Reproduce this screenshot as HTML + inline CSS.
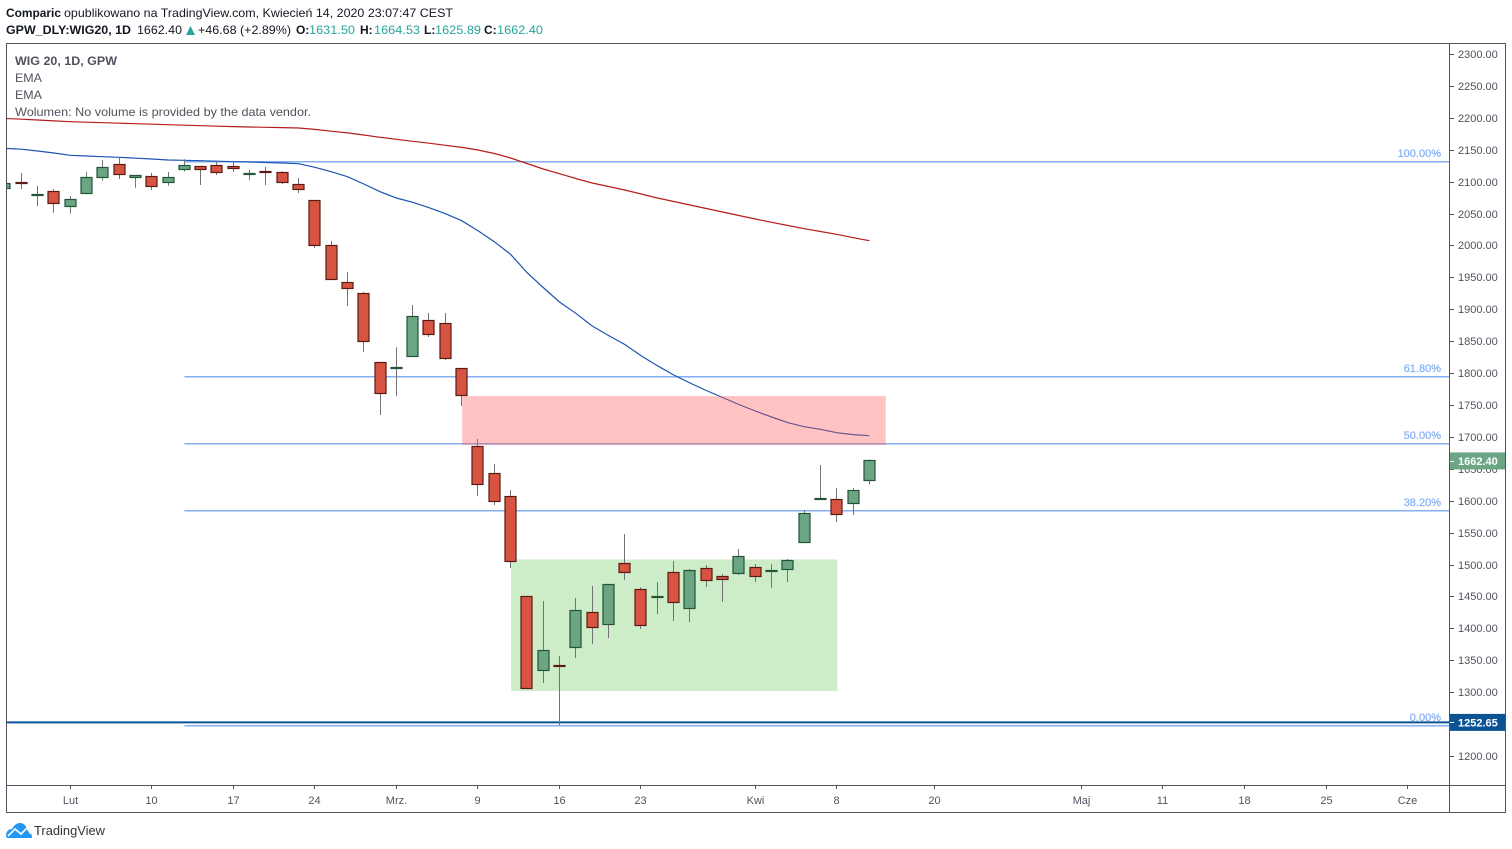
<!DOCTYPE html>
<html lang="pl">
<head>
<meta charset="utf-8">
<title>WIG 20, 1D, GPW</title>
<style>
html,body{margin:0;padding:0;background:#fff;width:1512px;height:849px;overflow:hidden}
svg{display:block;font-family:"Liberation Sans",Arial,sans-serif}
</style>
</head>
<body>
<svg id="root" xmlns="http://www.w3.org/2000/svg" width="1512" height="849" viewBox="0 0 1512 849">
  <defs><clipPath id="pane-clip"><rect x="7" y="44" width="1442" height="741"/></clipPath></defs>
  <g font-size="12" fill="#131722">
    <text x="6" y="17" font-weight="bold" textLength="55" lengthAdjust="spacingAndGlyphs">Comparic</text>
    <text x="64" y="17" textLength="389" lengthAdjust="spacingAndGlyphs">opublikowano na TradingView.com, Kwiecień 14, 2020 23:07:47 CEST</text>
    <text x="6" y="34" font-weight="bold" textLength="125" lengthAdjust="spacingAndGlyphs">GPW_DLY:WIG20, 1D</text>
    <text x="137" y="34" textLength="45" lengthAdjust="spacingAndGlyphs">1662.40</text>
    <polygon points="186,35 195,35 190.5,26" fill="#26a69a"/>
    <text x="198" y="34" textLength="93" lengthAdjust="spacingAndGlyphs">+46.68 (+2.89%)</text>
    <text x="296" y="34" font-weight="bold">O:</text>
    <text x="309" y="34" fill="#26a69a" textLength="46" lengthAdjust="spacingAndGlyphs">1631.50</text>
    <text x="360" y="34" font-weight="bold">H:</text>
    <text x="374" y="34" fill="#26a69a" textLength="46" lengthAdjust="spacingAndGlyphs">1664.53</text>
    <text x="424" y="34" font-weight="bold">L:</text>
    <text x="435" y="34" fill="#26a69a" textLength="46" lengthAdjust="spacingAndGlyphs">1625.89</text>
    <text x="484" y="34" font-weight="bold">C:</text>
    <text x="497" y="34" fill="#26a69a" textLength="46" lengthAdjust="spacingAndGlyphs">1662.40</text>
  </g>
  <g id="pane" clip-path="url(#pane-clip)"></g>
  <g id="overlay"></g>
  <g fill="none" stroke="#50535e" stroke-width="1">
    <rect x="6.5" y="43.5" width="1499" height="769"/>
    <line x1="1449.5" y1="44" x2="1449.5" y2="812"/>
    <line x1="7" y1="785.5" x2="1505" y2="785.5"/>
  </g>
  <g font-size="12" fill="#50535e">
    <text x="15" y="65" font-weight="bold" textLength="102" lengthAdjust="spacingAndGlyphs">WIG 20, 1D, GPW</text>
    <text x="15" y="82" textLength="27" lengthAdjust="spacingAndGlyphs">EMA</text>
    <text x="15" y="99" textLength="27" lengthAdjust="spacingAndGlyphs">EMA</text>
    <text x="15" y="116" textLength="296" lengthAdjust="spacingAndGlyphs">Wolumen: No volume is provided by the data vendor.</text>
  </g>
  <g>
    <path d="M6 836 C6 831 9 829 12 829 C14 825 17 823 20 823 C24 823 26 826 27 829 C30 830 32 833 32 838 L8 838 C7 838 6 837 6 836 Z" fill="#2196f3"/>
    <polyline points="8,836 15,829 21,834 27,828 31,834" fill="none" stroke="#fff" stroke-width="1.6"/>
    <text x="34" y="835" font-size="12.5" fill="#333" textLength="71" lengthAdjust="spacingAndGlyphs">TradingView</text>
  </g>
</svg>
<script>
const opens = [2088.8,2098,2078.5,2084.1,2061.5,2081.9,2107,2126.4,2107,2107.6,2099.1,2119.5,2123.3,2124.8,2123.3,2111.9,2116.1,2113.9,2095,2070,1999.5,1941.5,1924.3,1816.1,1807,1826.5,1882,1877.2,1806.7,1684.5,1642.2,1606.2,1449.5,1334.5,1341.6,1370.5,1424.4,1406.5,1501.2,1460.5,1448.7,1487.1,1431.6,1493.4,1480.8,1486.5,1494.9,1489.4,1492.7,1535,1602.2,1601.5,1596.1,1631.5];
const highs = [2096.6,2113.5,2093.2,2088,2077.5,2115.1,2133.9,2138.1,2109.5,2113.5,2115.1,2135,2124,2130.8,2132.8,2118.2,2122.9,2116.2,2105.7,2070,2007,1958.4,1927.1,1816.1,1840.4,1906.7,1894.2,1894.2,1806.7,1696.7,1657.6,1616.8,1449.5,1442.9,1356.7,1447.6,1466.4,1468.3,1547.9,1464.4,1472.7,1505.6,1493,1499.3,1485.2,1524.4,1500.9,1500.9,1508.7,1585.5,1656,1620,1620,1664.53];
const lows = [2088.8,2088.5,2061.8,2051.3,2049.8,2081.9,2101.5,2104.1,2090.5,2086.9,2093.6,2115.6,2094.7,2110.4,2115.1,2102.6,2094.7,2096.3,2082.2,1996,1946.2,1905.1,1833.1,1734.3,1764.1,1826.5,1856.6,1820.5,1748.5,1607.4,1593.3,1494.6,1306.3,1314.4,1248,1353.6,1375.5,1384.9,1475.8,1399,1422.5,1411.6,1410,1464.8,1441.3,1483.6,1472.7,1463.3,1472.7,1535,1602.2,1566.7,1577.7,1625.89];
const closes = [2096.6,2097,2079.5,2066.2,2071.5,2106,2121.7,2111.7,2109.2,2092.9,2106,2124.8,2119.5,2114.8,2121.1,2112.9,2115.1,2099.1,2088.2,2000.4,1946.2,1933,1850,1768.5,1808,1888.2,1861,1823.3,1765.4,1625.9,1599.3,1505.3,1306.3,1364.9,1340.6,1427.5,1401.9,1468.3,1488,1405,1449.7,1441,1490.2,1475.5,1477.1,1512.2,1481.8,1490.4,1505.9,1579.5,1603.2,1578.9,1615.7,1662.4];
const emaFast = [2152.1,2150.8,2148,2144.9,2141.3,2140.2,2139.1,2138.1,2136.7,2135.5,2133.9,2133.4,2132.8,2132,2131.2,2130.8,2130,2129.2,2128.1,2122.5,2115.6,2107.7,2096.3,2084.2,2074.4,2067.6,2059.2,2049.8,2038.8,2023.1,2005.9,1986.1,1957.6,1934.1,1911.4,1893.7,1873.8,1858.9,1844.8,1827.3,1811.6,1797,1784.5,1772.7,1761.8,1750.8,1740.6,1731.2,1722.3,1716,1711.9,1706.6,1703.6,1701.9];
const emaSlow = [2198.9,2197.8,2196.6,2195.2,2193.9,2193.1,2192.4,2191.6,2190.8,2190,2189.2,2188.4,2187.7,2186.9,2186.2,2185.6,2185.1,2184.7,2184,2181.9,2179,2176.4,2173.1,2169.5,2166.3,2163.2,2160.2,2156.9,2153.6,2149.6,2144.1,2137,2128.4,2119.8,2112.4,2104.9,2097.9,2092.4,2086.9,2080.6,2074.4,2068.9,2063.4,2057.9,2052.4,2046.9,2041.5,2036.3,2031.3,2026.3,2021.9,2017.5,2012.2,2007.5];
const priceTicks = [2300,2250,2200,2150,2100,2050,2000,1950,1900,1850,1800,1750,1700,1650,1600,1550,1500,1450,1400,1350,1300,1250,1200];
const timeTickBars = [4,9,14,19,24,29,34,39,46,51,57,66,71,76,81,86];
const timeTickLabels = ["Lut","10","17","24","Mrz.","9","16","23","Kwi","8","20","Maj","11","18","25","Cze"];
const fibHigh = 2132.3;
const fibLow = 1248.6;
const fibRatios = [1,0.618,0.5,0.382,0];
const fibLabels = ["100.00%","61.80%","50.00%","38.20%","0.00%"];
const fibStartBar = 11;
const supportLevel = 1252.65;
const lastPrice = 1662.40;
const resistanceZone = {fromBar:28, toBar:54, top:1764, bottom:1688};
const rangeZone = {fromBar:31, toBar:51, top:1508, bottom:1302};

const NS = "http://www.w3.org/2000/svg";
const pane = document.getElementById("pane");
const overlay = document.getElementById("overlay");
const xOf = i => 5 + 16.31 * i;
const yOf = p => 54 + (2300 - p) * 0.63818;
const crisp = v => Math.round(v) + 0.5;
const snap = v => Math.floor(v - 0.1) + 0.5;
function mk(parent, tag, attrs, txt) {
  const el = document.createElementNS(NS, tag);
  for (const k in attrs) el.setAttribute(k, attrs[k]);
  if (txt !== undefined) el.textContent = txt;
  parent.appendChild(el);
  return el;
}

// range box sits behind the candles
const greenBox = mk(pane, "rect", {x:xOf(rangeZone.fromBar)+0.5, y:yOf(rangeZone.top), width:xOf(rangeZone.toBar)-xOf(rangeZone.fromBar), height:yOf(rangeZone.bottom)-yOf(rangeZone.top), fill:"#cdedc9"});



// horizontal support line
const support = mk(pane, "line", {x1:7, x2:1449, y1:yOf(supportLevel), y2:yOf(supportLevel), stroke:"#0b5394", "stroke-width":2});



// fibonacci levels
fibRatios.forEach((r, k) => {
  const price = fibLow + (fibHigh - fibLow) * r;
  const y = crisp(yOf(price));
  const fl = mk(pane, "line", {x1:xOf(fibStartBar), x2:1449, y1:y+0.25, y2:y+0.25, stroke:"#85aef2", "stroke-width":1.5});
  
  
  const ft = mk(pane, "text", {x:1441, y:y-4.5, "text-anchor":"end", "font-size":11, fill:"#8ab4f8", stroke:"#8ab4f8", "stroke-width":0.3}, fibLabels[k]);
  
  
});

// EMA lines
const fastPts = emaFast.map((v, i) => xOf(i).toFixed(1) + "," + yOf(v).toFixed(1)).join(" ");
const fastLine = mk(pane, "polyline", {points:fastPts, fill:"none", stroke:"#1c55b0", "stroke-width":1.2});


const slowPts = emaSlow.map((v, i) => xOf(i).toFixed(1) + "," + yOf(v).toFixed(1)).join(" ");
const slowLine = mk(pane, "polyline", {points:slowPts, fill:"none", stroke:"#b71c1c", "stroke-width":1.2});



// candles
opens.forEach((o, i) => {
  const c = closes[i], up = c >= o;
  const cx = snap(xOf(i));
  const g = mk(pane, "g", {});
  
  
  const w = mk(g, "line", {x1:cx, x2:cx, y1:yOf(highs[i]), y2:yOf(lows[i]), stroke:"#737375", "stroke-width":1});
  
  
  const top = snap(yOf(Math.max(o, c)));
  const bot = snap(yOf(Math.min(o, c)));
  const b = mk(g, "rect", {x:cx-5.5, y:top, width:11, height:Math.max(bot-top, 1), fill:up ? "#6ba583" : "#d75442", stroke:up ? "#225437" : "#5b1a13", "stroke-width":1.2});
  
  
});

// translucent resistance box sits over the lines
const pinkBox = mk(pane, "rect", {x:xOf(resistanceZone.fromBar)+0.5, y:yOf(resistanceZone.top), width:xOf(resistanceZone.toBar)-xOf(resistanceZone.fromBar)-0.5, height:yOf(resistanceZone.bottom)-yOf(resistanceZone.top)+0.5, fill:"#ff5252", "fill-opacity":0.35});



// price axis
priceTicks.forEach(p => {
  const y = crisp(yOf(p));
  const t = mk(overlay, "line", {x1:1450, x2:1454, y1:y, y2:y, stroke:"#50535e", "stroke-width":1});
  
  
  const l = mk(overlay, "text", {x:1458, y:y+3.5, "font-size":11, fill:"#50535e"}, p.toFixed(2));
  
  
});

// time axis
timeTickBars.forEach((b, k) => {
  const x = snap(xOf(b));
  const t = mk(overlay, "line", {x1:x, x2:x, y1:786, y2:789, stroke:"#50535e", "stroke-width":1});
  
  
  const l = mk(overlay, "text", {x:x, y:804, "text-anchor":"middle", "font-size":11, fill:"#50535e"}, timeTickLabels[k]);
  
  
});

// price badges
const lastY = yOf(lastPrice);
const lastBg = mk(overlay, "rect", {x:1450, y:lastY-8.5, width:55, height:17, fill:"#6ba583"});


const lastTick = mk(overlay, "line", {x1:1450, x2:1454, y1:crisp(lastY), y2:crisp(lastY), stroke:"#fff", "stroke-width":1});


const lastTxt = mk(overlay, "text", {x:1458, y:lastY+4, "font-size":11, "font-weight":"bold", fill:"#fff"}, lastPrice.toFixed(2));



const supY = yOf(supportLevel);
const supBg = mk(overlay, "rect", {x:1450, y:supY-8.5, width:55, height:17, fill:"#0b5394"});


const supTick = mk(overlay, "line", {x1:1450, x2:1454, y1:crisp(supY), y2:crisp(supY), stroke:"#fff", "stroke-width":1});


const supTxt = mk(overlay, "text", {x:1458, y:supY+4, "font-size":11, "font-weight":"bold", fill:"#fff"}, supportLevel.toFixed(2));


</script>
</body>
</html>
